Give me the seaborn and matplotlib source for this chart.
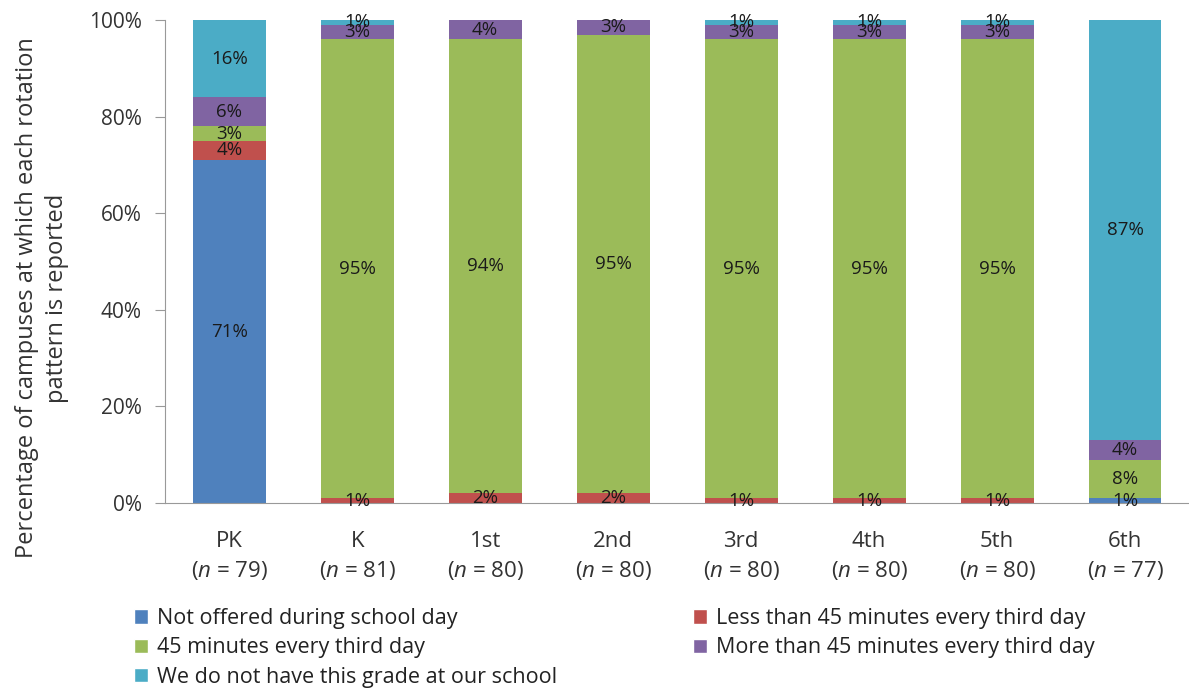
import numpy as np
import pandas as pd
import matplotlib
matplotlib.use("Agg")
import matplotlib.pyplot as plt
import seaborn as sns
from matplotlib.patches import Patch

grades = ["PK", "K", "1st", "2nd", "3rd", "4th", "5th", "6th"]
n_values = [79, 81, 80, 80, 80, 80, 80, 77]
series_names = [
    "Not offered during school day",
    "Less than 45 minutes every third day",
    "45 minutes every third day",
    "More than 45 minutes every third day",
    "We do not have this grade at our school",
]
not_offered = [71, 0, 0, 0, 0, 0, 0, 1]
less_45 = [4, 1, 2, 2, 1, 1, 1, 0]
min_45 = [3, 95, 94, 95, 95, 95, 95, 8]
more_45 = [6, 3, 4, 3, 3, 3, 3, 4]
no_grade = [16, 1, 0, 0, 1, 1, 1, 87]
colors = ["#4F81BD", "#C0504D", "#9BBB59", "#8064A2", "#4BACC6"]

sns.set_style("white")
plt.rcParams["font.family"] = ["Open Sans", "DejaVu Sans"]
plt.rcParams["mathtext.fontset"] = "custom"
plt.rcParams["mathtext.it"] = "Open Sans:italic"
plt.rcParams["mathtext.rm"] = "Open Sans"

fig = plt.figure(figsize=(11.89, 6.92), dpi=100)
ax = fig.add_axes([0.139, 0.273, 0.861, 0.698])

all_series = [not_offered, less_45, min_45, more_45, no_grade]
xlabels = [f"{g}\n($\\it{{n}}$ = {n})" for g, n in zip(grades, n_values)]
bottom = np.zeros(len(grades))
for name, vals, col in zip(series_names, all_series, colors):
    df = pd.DataFrame({"grade": xlabels, "val": vals})
    sns.barplot(data=df, x="grade", y="val", color=col, bottom=bottom,
                width=0.57, ax=ax, saturation=1, linewidth=0, errorbar=None)
    cont = ax.containers[-1]
    labels = [f"{v}%" if v > 0 else "" for v in vals]
    ax.bar_label(cont, labels=labels, label_type="center", fontsize=13.5,
                 color="#1a1a1a")
    bottom = bottom + np.array(vals)

ax.set_ylim(0, 100)
ax.set_xlim(-0.5, 7.5)
ax.set_yticks(np.arange(0, 101, 20))
ax.set_yticklabels([f"{v}%" for v in range(0, 101, 20)], fontsize=15, color="#333333")
ax.tick_params(axis="x", which="major", length=0, labelsize=16, pad=20, labelcolor="#333333")
for lbl in ax.get_xticklabels():
    lbl.set_linespacing(1.4)
ax.set_xticks(np.arange(-0.5, 8, 1), minor=True)
ax.tick_params(axis="x", which="minor", length=7, color="#999999", direction="out")
ax.tick_params(axis="y", length=7, color="#999999", direction="out", left=True, pad=10)
ax.set_xlabel("")
ax.set_ylabel("")
fig.text(42 / 1189, 1 - 298 / 692,
         "Percentage of campuses at which each rotation\npattern is reported",
         rotation=90, ha="center", va="center", fontsize=17, color="#333333",
         linespacing=1.3)
for s in ["top", "right"]:
    ax.spines[s].set_visible(False)
for s in ["left", "bottom"]:
    ax.spines[s].set_color("#999999")

handles = [Patch(facecolor=c, label=n) for n, c in zip(series_names, colors)]
left_h = [handles[0], handles[2], handles[4]]
right_h = [handles[1], handles[3]]
common = dict(loc="upper left", frameon=False, fontsize=15.5, handlelength=0.65,
              handleheight=0.65, handletextpad=0.4, labelspacing=0.38,
              labelcolor="#222222", borderpad=0.3)
fig.legend(handles=left_h, bbox_to_anchor=(117 / 1189, 1 - 591 / 692), **common)
fig.legend(handles=right_h, bbox_to_anchor=(676 / 1189, 1 - 591 / 692), **common)

fig.savefig("out.png", dpi=100)
